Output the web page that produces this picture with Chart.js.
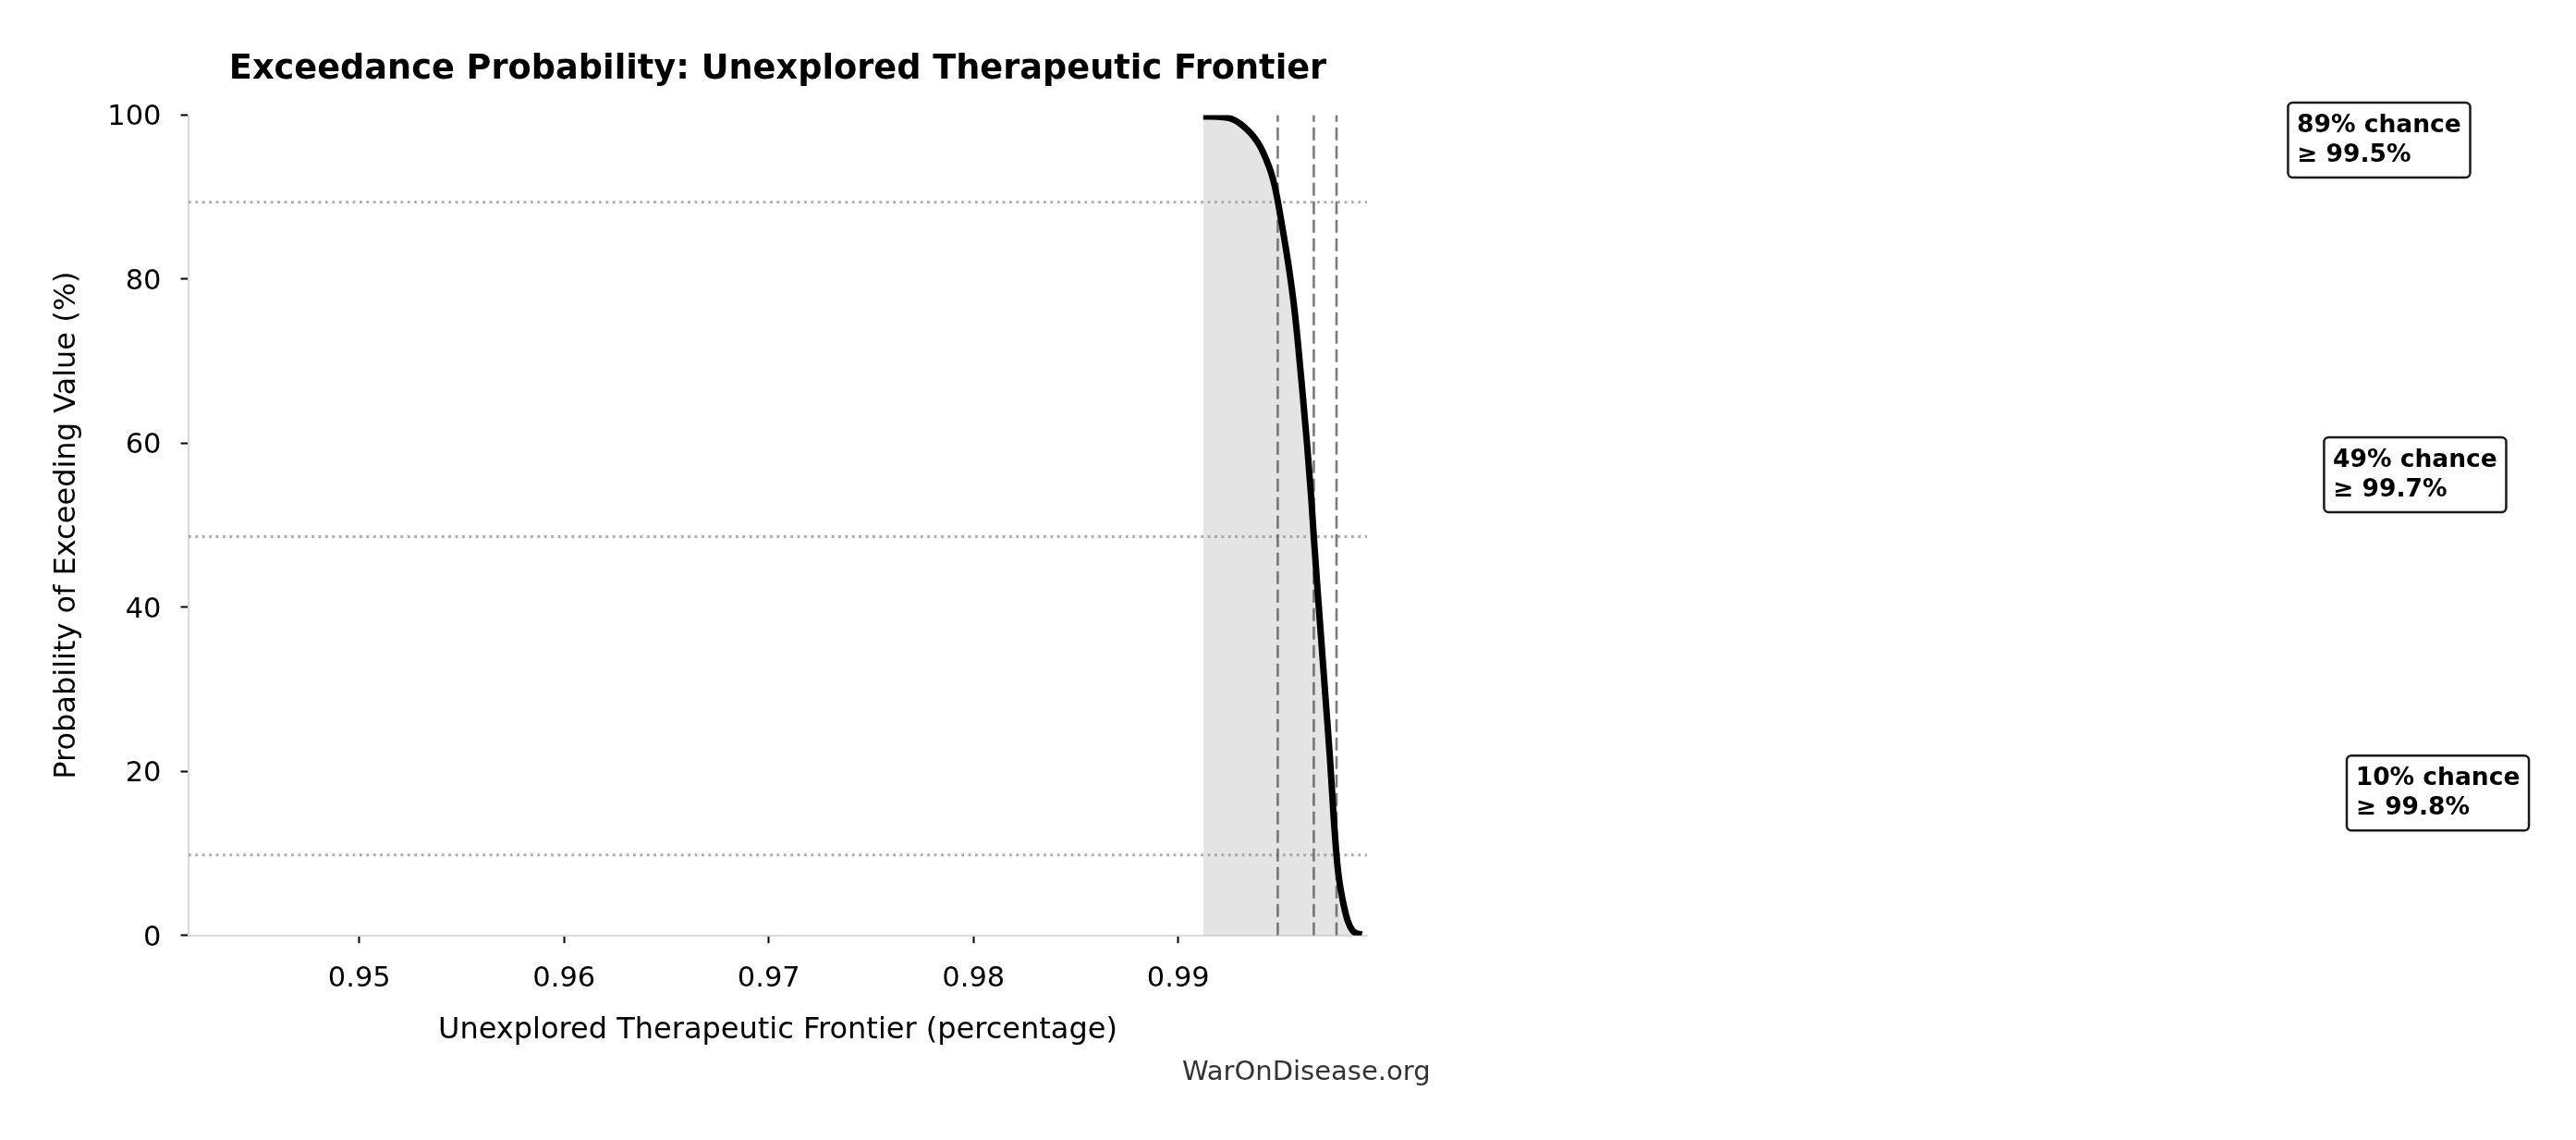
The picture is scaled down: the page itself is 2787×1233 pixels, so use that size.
<!DOCTYPE html>
<html>
<head>
<meta charset="utf-8">
<title>Exceedance Probability: Unexplored Therapeutic Frontier</title>
<script src="https://cdn.jsdelivr.net/npm/chart.js@4"></script>
<style>
  html, body { margin: 0; padding: 0; background: #fff; }
  #wrap { width: 2787px; height: 1233px; }
</style>
</head>
<body>
<div id="wrap"><canvas id="chart" width="2787" height="1233"></canvas></div>
<script>
// exceedance curve
const frontierValues = [0.99122, 0.99219, 0.99257, 0.99295, 0.99332, 0.99370, 0.99400, 0.99428,
    0.99451, 0.99470, 0.99487, 0.99504, 0.99523, 0.99544, 0.99565, 0.99582, 0.99605, 0.99629,
    0.99650, 0.99662, 0.99681, 0.99701, 0.99721, 0.99741, 0.99758, 0.99773, 0.99785, 0.99806,
    0.99829, 0.99852, 0.99882, 0.99897];
const exceedancePct = [99.83, 99.75, 99.57, 99.08, 98.33, 97.32, 96.19, 94.68,
    93.18, 91.49, 89.40, 86.98, 84.16, 80.78, 76.84, 72.89, 66.69, 59.93,
    53.17, 48.60, 41.90, 35.13, 28.37, 21.61, 14.84, 9.77, 6.95, 3.94,
    1.69, 0.56, 0.19, 0.11];

// marked percentiles and their exceedance probabilities
const percentileValues = [0.99486, 0.99662, 0.99773];
const percentileProbs = [89.4, 48.6, 9.8];

const xTicks = [0.95, 0.96, 0.97, 0.98, 0.99];
const yTicks = [0, 20, 40, 60, 80, 100];
const xLimits = [0.94166, 0.99922];
const yLimits = [0, 100];

const FONT = "'DejaVu Sans', 'Liberation Sans', sans-serif";

const curvePoints = frontierValues.map((x, i) => ({ x: x, y: exceedancePct[i] }));

const datasets = [{
    label: 'exceedance',
    data: curvePoints,
    borderColor: '#000',
    borderWidth: 7,
    backgroundColor: 'rgba(128,128,128,0.21)',
    fill: 'origin',
    pointRadius: 0,
    cubicInterpolationMode: 'monotone',
    order: 0
}];

percentileValues.forEach(function (p) {
    datasets.push({
        data: [{ x: p, y: yLimits[0] }, { x: p, y: yLimits[1] }],
        borderColor: 'rgba(90,90,90,0.8)',
        borderWidth: 2.6,
        borderDash: [14, 6],
        pointRadius: 0,
        fill: false,
        order: 1
    });
});

percentileProbs.forEach(function (pr) {
    datasets.push({
        data: [{ x: xLimits[0], y: pr }, { x: xLimits[1], y: pr }],
        borderColor: 'rgba(150,150,150,0.8)',
        borderWidth: 2.8,
        borderDash: [2.8, 4.6],
        pointRadius: 0,
        fill: false,
        order: 2
    });
});

// title, chance boxes and the site name
const extrasPlugin = {
    id: 'extras',
    afterDraw(chart) {
        const ctx = chart.ctx;
        const area = chart.chartArea;
        const xs = chart.scales.x;
        const ys = chart.scales.y;

        ctx.save();
        ctx.fillStyle = '#000';
        ctx.font = "bold 36.7px " + FONT;
        ctx.textAlign = 'center';
        ctx.textBaseline = 'alphabetic';
        ctx.fillText('Exceedance Probability: Unexplored Therapeutic Frontier', (area.left + area.right) / 2, 85);

        ctx.font = "bold 26.5px " + FONT;
        ctx.textAlign = 'left';
        percentileValues.forEach(function (p, i) {
            const lines = [Math.round(percentileProbs[i]) + '% chance', '\u2265 ' + (p * 100).toFixed(1) + '%'];
            const w = Math.max.apply(null, lines.map(l => ctx.measureText(l).width)) + 19.4;
            const h = 81;
            const left = xs.getPixelForValue(p) + 1093;
            const top = ys.getPixelForValue(percentileProbs[i]) - 67 - h / 2;
            ctx.beginPath();
            ctx.roundRect(left, top, w, h, 5);
            ctx.fillStyle = '#fff';
            ctx.fill();
            ctx.lineWidth = 2.5;
            ctx.strokeStyle = '#1a1a1a';
            ctx.stroke();
            ctx.fillStyle = '#000';
            ctx.fillText(lines[0], left + 9.7, top + 32);
            ctx.fillText(lines[1], left + 9.7, top + 63.6);
        });

        ctx.font = "29px " + FONT;
        ctx.fillStyle = '#333';
        ctx.fillText('WarOnDisease.org', 1279, 1168);
        ctx.restore();
    }
};

new Chart(document.getElementById('chart').getContext('2d'), {
    type: 'line',
    data: { datasets: datasets },
    options: {
        responsive: false,
        devicePixelRatio: 1,
        animation: false,
        layout: { padding: { top: 124.5, right: 2787 - 1479, left: 0, bottom: 0 } },
        plugins: {
            legend: { display: false },
            tooltip: { enabled: false },
            filler: { drawTime: 'beforeDatasetsDraw' }
        },
        scales: {
            x: {
                type: 'linear',
                min: xLimits[0],
                max: xLimits[1],
                afterFit: function (s) { s.height = 1233 - 1011.7; },
                afterBuildTicks: function (s) { s.ticks = xTicks.map(v => ({ value: v })); },
                ticks: {
                    padding: 20.5,
                    color: '#000',
                    font: { family: FONT, size: 30.5 },
                    maxRotation: 0,
                    callback: v => v.toFixed(2)
                },
                grid: { drawOnChartArea: false, drawTicks: true, tickLength: 8.5, tickColor: '#000', tickWidth: 2 },
                border: { display: true, color: '#d9d9d9', width: 2 },
                title: {
                    display: true,
                    text: 'Unexplored Therapeutic Frontier (percentage)',
                    color: '#000',
                    font: { family: FONT, size: 32 },
                    padding: { top: 0, bottom: 99 }
                }
            },
            y: {
                type: 'linear',
                min: yLimits[0],
                max: yLimits[1],
                afterFit: function (s) { s.width = 204; },
                afterBuildTicks: function (s) { s.ticks = yTicks.map(v => ({ value: v })); },
                ticks: {
                    padding: 21,
                    labelOffset: 3,
                    color: '#000',
                    font: { family: FONT, size: 30.5 },
                    callback: v => String(v)
                },
                grid: { drawOnChartArea: false, drawTicks: true, tickLength: 8.5, tickColor: '#000', tickWidth: 2 },
                border: { display: true, color: '#d9d9d9', width: 2 },
                title: {
                    display: true,
                    text: 'Probability of Exceeding Value (%)',
                    color: '#000',
                    font: { family: FONT, size: 32 },
                    padding: { top: 53.6, bottom: 0 }
                }
            }
        }
    },
    plugins: [extrasPlugin]
});
</script>
</body>
</html>
